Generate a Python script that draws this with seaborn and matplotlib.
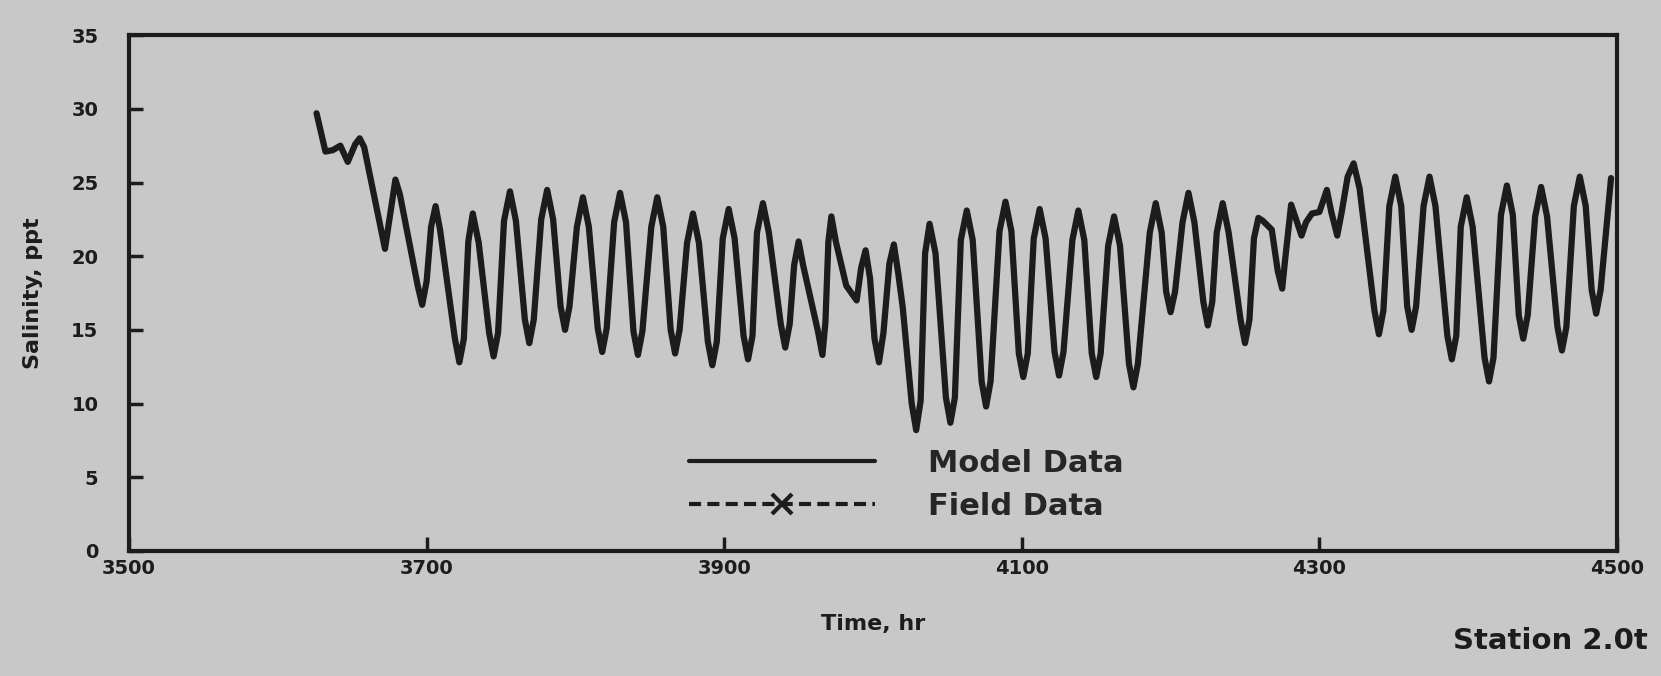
import numpy as np
import pandas as pd
import matplotlib
matplotlib.use('Agg')
import matplotlib.pyplot as plt
from matplotlib.lines import Line2D
import seaborn as sns

# model salinity (peaks, troughs and their shoulders)
time_hr = [3626, 3632, 3637, 3642, 3647, 3652, 3655, 3658,
           3669, 3672, 3675, 3679, 3682,
           3694, 3697, 3700, 3703, 3706, 3709,
           3719, 3722, 3725, 3728, 3731, 3735,
           3742, 3745, 3748, 3752, 3756, 3760,
           3766, 3769, 3772, 3777, 3781, 3785,
           3790, 3793, 3796, 3801, 3805, 3809,
           3815, 3818, 3821, 3826, 3830, 3834,
           3839, 3842, 3845, 3851, 3855, 3859,
           3864, 3867, 3870, 3875, 3879, 3883,
           3889, 3892, 3895, 3899, 3903, 3907,
           3913, 3916, 3919, 3922, 3926, 3930,
           3938, 3941, 3944, 3947, 3950, 3953,
           3963, 3966, 3968, 3970, 3972, 3975,
           3982, 3989, 3992, 3995, 3998,
           4001, 4004, 4007, 4011, 4014, 4017, 4020,
           4026, 4029, 4032, 4035, 4038, 4042,
           4049, 4052, 4055, 4059, 4063, 4067,
           4073, 4076, 4079, 4085, 4089, 4093,
           4098, 4101, 4104, 4108, 4112, 4116,
           4122, 4125, 4128, 4134, 4138, 4142,
           4147, 4150, 4153, 4158, 4162, 4166,
           4172, 4175, 4178, 4186, 4190, 4194,
           4197, 4200, 4203, 4208, 4212, 4216,
           4222, 4225, 4228, 4231, 4235, 4239,
           4247, 4250, 4253, 4256, 4259, 4262, 4268,
           4272, 4275, 4277, 4281, 4284, 4288, 4291, 4295, 4300,
           4305, 4308, 4312, 4315, 4319, 4323, 4327,
           4337, 4340, 4343, 4347, 4351, 4355,
           4359, 4362, 4365, 4370, 4374, 4378,
           4386, 4389, 4392, 4395, 4399, 4403,
           4411, 4414, 4417, 4422, 4426, 4430,
           4434, 4437, 4440, 4445, 4449, 4453,
           4460, 4463, 4466, 4471, 4475, 4479,
           4483, 4486, 4489, 4496]
salinity = [29.7, 27.1, 27.2, 27.5, 26.4, 27.6, 28.0, 27.4,
            22.0, 20.5, 22.5, 25.2, 24.2,
            18.0, 16.7, 18.3, 22.0, 23.4, 21.8,
            14.4, 12.8, 14.4, 21.0, 22.9, 20.9,
            14.8, 13.2, 14.8, 22.4, 24.4, 22.4,
            15.7, 14.1, 15.7, 22.5, 24.5, 22.5,
            16.6, 15.0, 16.6, 22.0, 24.0, 22.0,
            15.1, 13.5, 15.1, 22.3, 24.3, 22.3,
            14.9, 13.3, 14.9, 22.0, 24.0, 22.0,
            15.0, 13.4, 15.0, 20.9, 22.9, 20.9,
            14.2, 12.6, 14.2, 21.2, 23.2, 21.2,
            14.6, 13.0, 14.6, 21.6, 23.6, 21.6,
            15.4, 13.8, 15.4, 19.4, 21.0, 19.4,
            14.9, 13.3, 15.5, 21.0, 22.7, 21.0,
            18.0, 17.0, 19.2, 20.4, 18.5,
            14.4, 12.8, 14.8, 19.5, 20.8, 18.8, 16.5,
            10.0, 8.2, 10.2, 20.2, 22.2, 20.2,
            10.4, 8.7, 10.4, 21.1, 23.1, 21.1,
            11.5, 9.8, 11.5, 21.7, 23.7, 21.7,
            13.4, 11.8, 13.4, 21.2, 23.2, 21.2,
            13.5, 11.9, 13.5, 21.1, 23.1, 21.1,
            13.4, 11.8, 13.4, 20.7, 22.7, 20.7,
            12.7, 11.1, 12.7, 21.6, 23.6, 21.6,
            17.6, 16.2, 17.6, 22.3, 24.3, 22.3,
            16.9, 15.3, 16.9, 21.6, 23.6, 21.6,
            15.7, 14.1, 15.7, 21.2, 22.6, 22.4, 21.8,
            19.0, 17.8, 19.8, 23.5, 22.6, 21.4, 22.3, 22.9, 23.0,
            24.5, 23.0, 21.4, 23.0, 25.4, 26.3, 24.6,
            16.3, 14.7, 16.3, 23.4, 25.4, 23.4,
            16.6, 15.0, 16.6, 23.4, 25.4, 23.4,
            14.6, 13.0, 14.6, 22.0, 24.0, 22.0,
            13.1, 11.5, 13.1, 22.8, 24.8, 22.8,
            16.0, 14.4, 16.0, 22.7, 24.7, 22.7,
            15.2, 13.6, 15.2, 23.4, 25.4, 23.4,
            17.7, 16.1, 17.7, 25.3]

x_ticks = [3500, 3700, 3900, 4100, 4300, 4500]
y_ticks = [0, 5, 10, 15, 20, 25, 30, 35]

df = pd.DataFrame({'time': time_hr, 'salinity': salinity})

bg = '#c8c8c8'
ink = '#1c1c1c'

sns.set_style('ticks')
plt.rcParams['font.family'] = ['DejaVu Sans']

fig = plt.figure(figsize=(16.61, 6.76), dpi=100, facecolor=bg)
ax = fig.add_axes([0.0777, 0.185, 0.8958, 0.763])
ax.set_facecolor(bg)

sns.lineplot(data=df, x='time', y='salinity', color=ink, linewidth=4.5,
             ax=ax, legend=False)
ax.lines[0].set_solid_joinstyle('round')

ax.set_xlim(3500, 4500)
ax.set_ylim(0, 35)
ax.set_xticks(x_ticks)
ax.set_yticks(y_ticks)
ax.tick_params(axis='both', direction='in', length=10, width=2.5,
               color=ink, labelcolor=ink, labelsize=14)
ax.tick_params(axis='y', pad=22)
ax.tick_params(axis='x', pad=6)
for lab in ax.get_xticklabels() + ax.get_yticklabels():
    lab.set_fontweight('bold')

for sp in ax.spines.values():
    sp.set_linewidth(3)
    sp.set_color(ink)

ax.set_xlabel('Time, hr', fontsize=16, fontweight='bold', color=ink,
              labelpad=26)
ax.set_ylabel('Salinity, ppt', fontsize=16, fontweight='bold', color=ink,
              labelpad=20)

handles = [Line2D([], [], color=ink, linewidth=3),
           Line2D([], [], color=ink, linewidth=3, linestyle=(0, (2.9, 1.5)),
                  marker='x', markersize=14, markeredgewidth=3)]
ax.legend(handles, ['Model Data', 'Field Data'], loc='upper left',
          bbox_to_anchor=(0.376, 0.198), frameon=False,
          handlelength=6.1, handletextpad=1.75, labelspacing=0.45,
          borderpad=0, borderaxespad=0, numpoints=1,
          prop={'weight': 'bold', 'size': 22})

fig.text(0.992, 0.04, 'Station 2.0t', fontsize=21, ha='right',
         va='baseline', color=ink, fontweight='semibold')

fig.savefig('out.png', dpi=100, facecolor=bg)
